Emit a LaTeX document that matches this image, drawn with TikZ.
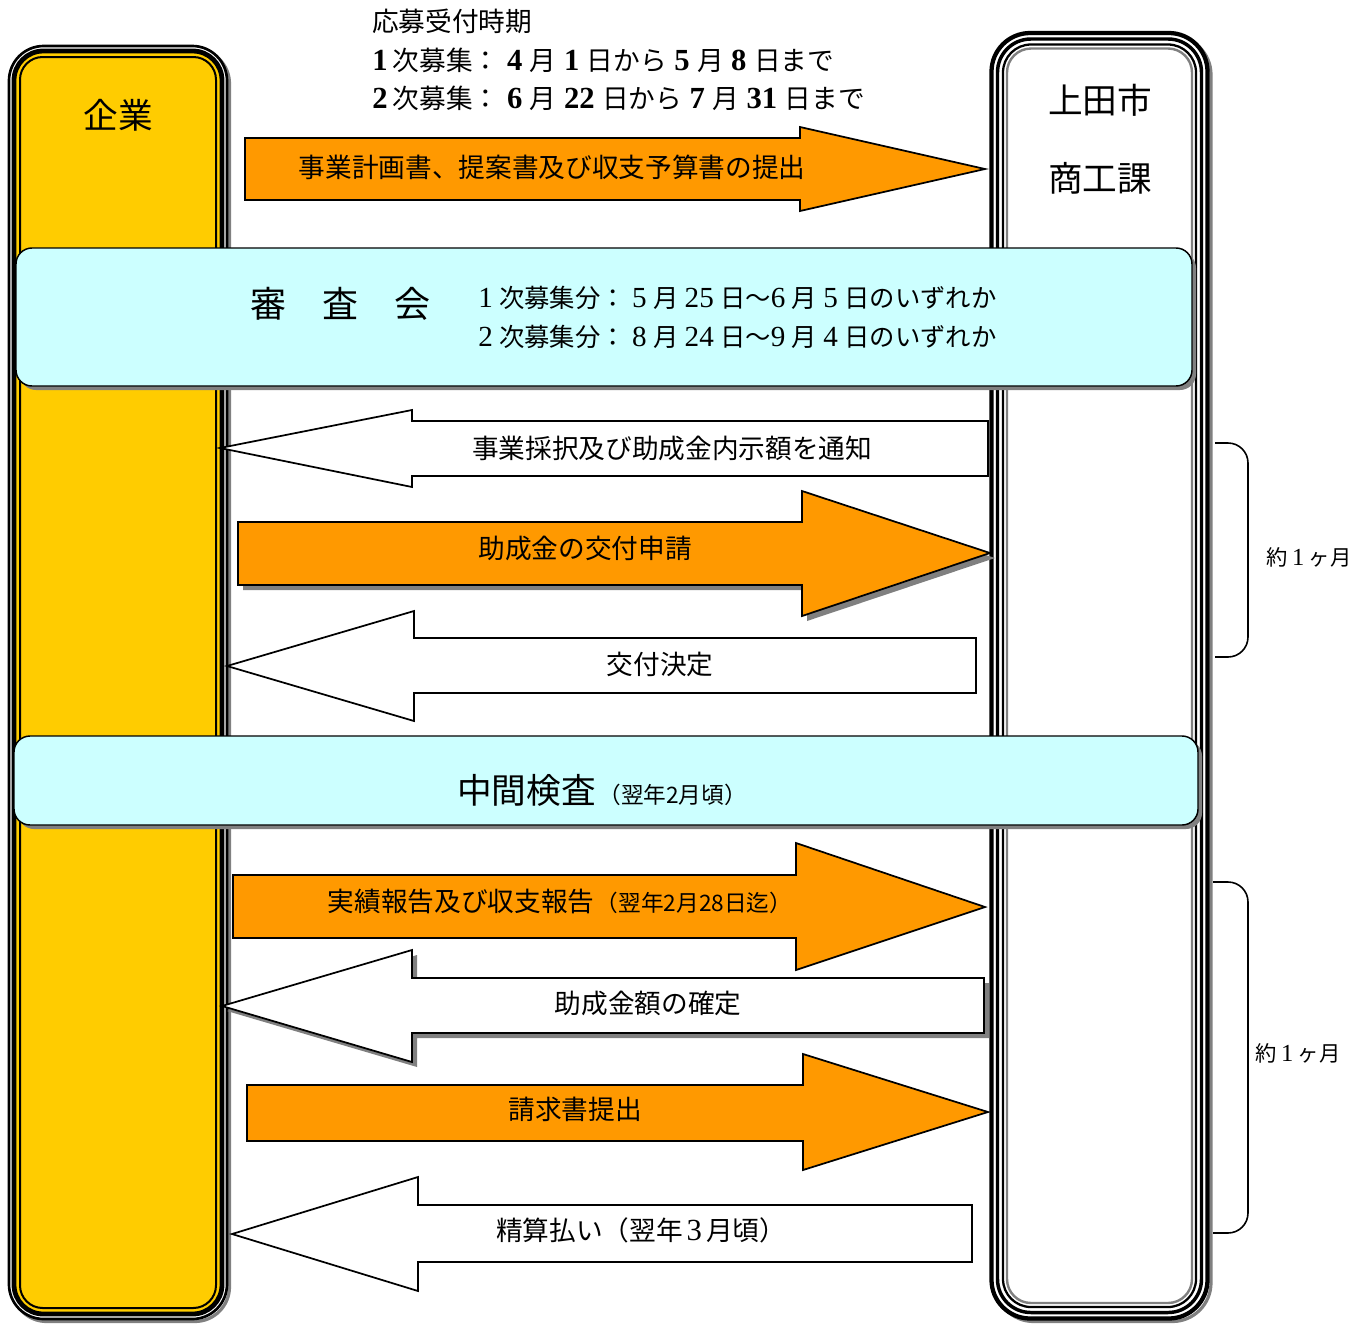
\documentclass[tikz,border=0pt]{standalone}
\usepackage{fontspec}
\setmainfont{Noto Sans CJK JP}
\newfontfamily\sd[Scale=1.15]{Liberation Serif}
\definecolor{colY}{HTML}{FFCC00}
\definecolor{colO}{HTML}{FF9900}
\definecolor{colC}{HTML}{CCFFFF}
\definecolor{shd}{HTML}{808080}
\newcommand\dgb[1]{\hspace{.28em}{\sd\bfseries #1}\hspace{.28em}}
\newcommand\dgr[1]{\hspace{.25em}{\sd #1}\hspace{.25em}}
\newcommand\fsz[1]{\fontsize{#1pt}{#1pt}\selectfont}
\tikzset{
  rarr/.style={fill=colO, draw=black, line width=1.3pt, line join=miter},
  larr/.style={fill=white, draw=black, line width=1.3pt, line join=miter},
  shdw/.style={fill=shd, draw=none},
  infobox/.style={fill=colC, draw=black, line width=1.1pt, rounded corners=12pt},
  lbl/.style={inner sep=0pt, font=\fsz{20}},
  collbl/.style={inner sep=0pt, font=\fsz{26}},
  brk/.style={draw=black, line width=1.2pt, rounded corners=15pt},
  toptxt/.style={inner sep=0pt, anchor=west, font=\fsz{20}},
}
\begin{document}
\begin{tikzpicture}[x=0.75pt,y=-0.75pt]
\useasboundingbox (0,0) rectangle (1368,1325);
\fill[white] (0,0) rectangle (1368,1325);

% ---------- left column (企業) ----------
\draw[shd, line width=2.4pt, rounded corners=26pt] (12,49) rectangle (229.5,1321.5);
\draw[black, line width=2pt, fill=white, rounded corners=26pt] (9,46) rectangle (227,1319);
\draw[black, line width=3.6pt, fill=colY, rounded corners=22pt] (14,51) rectangle (222,1314);
\draw[black, line width=1.5pt, rounded corners=17pt] (20,57) rectangle (216,1308);
\node[collbl] (kigyo) at (118,115) {企業};

% ---------- right column (上田市商工課) ----------
\draw[shd, line width=2.4pt, rounded corners=29pt] (995,36) rectangle (1211,1321.5);
\draw[black, line width=3.2pt, fill=white, rounded corners=29pt] (991.5,33) rectangle (1207.5,1318.5);
\draw[black, line width=2.6pt, rounded corners=25pt] (997.5,39) rectangle (1201.5,1312.5);
\draw[black, line width=1.7pt, rounded corners=21pt] (1003,44.5) rectangle (1196,1307);
\draw[shd, line width=1.8pt, rounded corners=18pt] (1007,48.5) rectangle (1192,1303);
\node[collbl] (ueda) at (1100,100) {上田市};
\node[collbl] (shoko) at (1100,178) {商工課};

% ---------- top text ----------
\node[toptxt] (t1) at (372,21) {応募受付時期};
\node[toptxt] (t2) at (372,60) {{\sd\bfseries 1}\hspace{.2em}次募集：\dgb{4}月\dgb{1}日から\dgb{5}月\dgb{8}日まで};
\node[toptxt] (t3) at (372,98) {{\sd\bfseries 2}\hspace{.2em}次募集：\dgb{6}月\dgb{22}日から\dgb{7}月\dgb{31}日まで};

% ---------- arrow 1 ----------
\draw[rarr] (245,138) -- (800,138) -- (800,127) -- (985,169) -- (800,211) -- (800,200) -- (245,200) -- cycle;
\node[lbl] (a1) at (552,167) {事業計画書、提案書及び収支予算書の提出};

% ---------- 審査会 box ----------
\fill[shd, rounded corners=12pt] (20,252) rectangle (1196,390);
\draw[infobox] (16,248) rectangle (1192,386);
\node[inner sep=0pt, font=\fsz{27}] (shinsa) at (340,304) {審　査　会};
\node[toptxt, font=\fsz{19}] (s1) at (478,298) {{\sd 1}\hspace{.25em}次募集分：\dgr{5}月\dgr{25}日～{\sd 6}\hspace{.25em}月\dgr{5}日のいずれか};
\node[toptxt, font=\fsz{19}] (s2) at (478,337) {{\sd 2}\hspace{.25em}次募集分：\dgr{8}月\dgr{24}日～{\sd 9}\hspace{.25em}月\dgr{4}日のいずれか};

% ---------- arrow 3 ----------
\draw[larr] (988,421) -- (412,421) -- (412,410) -- (220,448) -- (412,487) -- (412,476) -- (988,476) -- cycle;
\node[lbl] (a3) at (672,448) {事業採択及び助成金内示額を通知};

% ---------- arrow 4 ----------
\fill[shdw, shift={(5,5)}] (238,522) -- (802,522) -- (802,491) -- (990,553) -- (802,616) -- (802,585) -- (238,585) -- cycle;
\draw[rarr] (238,522) -- (802,522) -- (802,491) -- (990,553) -- (802,616) -- (802,585) -- (238,585) -- cycle;
\node[lbl] (a4) at (585,548) {助成金の交付申請};

% ---------- arrow 5 ----------
\draw[larr] (976,638) -- (414,638) -- (414,611) -- (227,666) -- (414,721) -- (414,693) -- (976,693) -- cycle;
\node[lbl] (a5) at (660,664) {交付決定};

% ---------- 中間検査 box ----------
\fill[shd, rounded corners=12pt] (18,740) rectangle (1202,829);
\draw[infobox] (14,736) rectangle (1198,825);
\node[inner sep=0pt] (chukan) at (602,790) {{\fsz{26}中間検査}\hspace{.2em}{\fsz{17}（翌年2月頃）}};

% ---------- arrow 6 ----------
\draw[rarr] (233,875) -- (796,875) -- (796,843) -- (985,907) -- (796,970) -- (796,938) -- (233,938) -- cycle;
\node[inner sep=0pt] (a6) at (560,901) {{\fsz{20}実績報告及び収支報告}\hspace{.1em}{\fsz{17}（翌年2月28日迄）}};

% ---------- arrow 7 ----------
\fill[shdw, shift={(5,5)}] (984,978) -- (412,978) -- (412,950) -- (222,1006) -- (412,1062) -- (412,1033) -- (984,1033) -- cycle;
\draw[larr] (984,978) -- (412,978) -- (412,950) -- (222,1006) -- (412,1062) -- (412,1033) -- (984,1033) -- cycle;
\node[lbl] (a7) at (648,1003) {助成金額の確定};

% ---------- arrow 8 ----------
\draw[rarr] (247,1085) -- (803,1085) -- (803,1054) -- (988,1112) -- (803,1170) -- (803,1141) -- (247,1141) -- cycle;
\node[lbl] (a8) at (575,1109) {請求書提出};

% ---------- arrow 9 ----------
\draw[larr] (972,1205) -- (418,1205) -- (418,1177) -- (232,1234) -- (418,1291) -- (418,1262) -- (972,1262) -- cycle;
\node[lbl] (a9) at (641,1230) {精算払い（翌年\hspace{.15em}{\sd 3}\hspace{.15em}月頃）};

% ---------- brackets ----------
\draw[brk] (1215,443) -- (1248,443) -- (1248,657) -- (1215,657);
\node[inner sep=0pt, font=\fsz{16}] (m1) at (1309,557) {約\hspace{.2em}{\sd 1}\hspace{.2em}ヶ月};
\draw[brk] (1213,882) -- (1248,882) -- (1248,1233) -- (1213,1233);
\node[inner sep=0pt, font=\fsz{16}] (m2) at (1298,1053) {約\hspace{.2em}{\sd 1}\hspace{.2em}ヶ月};
\end{tikzpicture}
\end{document}
